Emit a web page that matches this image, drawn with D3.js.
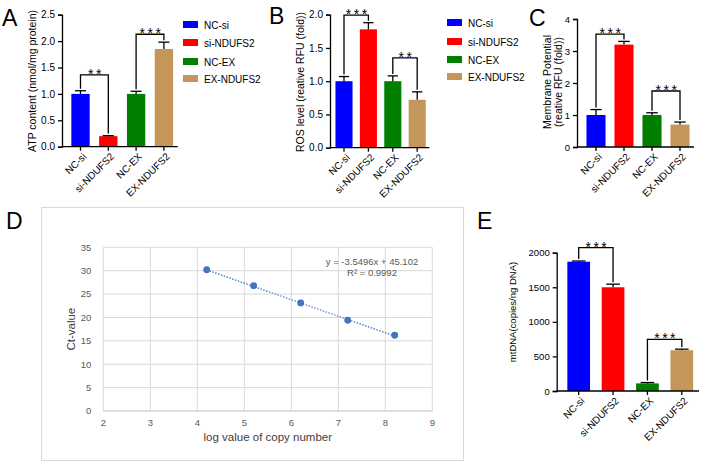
<!DOCTYPE html>
<html>
<head>
<meta charset="utf-8">
<script src="https://cdn.jsdelivr.net/npm/d3@7"></script>
<style>
  body { margin: 0; background: #fff; }
  svg { display: block; font-family: "Liberation Sans", Arial, sans-serif; }
</style>
</head>
<body>
<div id="chart"></div>
<script>
// ---- data ----
const groups = ["NC-si", "si-NDUFS2", "NC-EX", "EX-NDUFS2"];
const groupColors = ["#0000FF", "#FF0000", "#007F00", "#C4965A"];

const atpMean = [1.0, 0.2, 1.0, 1.85];
const atpErr = [0.06, 0.01, 0.05, 0.13];
const atpTicks = [0, 0.5, 1.0, 1.5, 2.0, 2.5];

const rosMean = [1.0, 1.78, 1.0, 0.72];
const rosErr = [0.07, 0.10, 0.08, 0.12];
const rosTicks = [0, 0.5, 1.0, 1.5, 2.0];

const mmpMean = [1.0, 3.2, 1.0, 0.7];
const mmpErr = [0.17, 0.10, 0.07, 0.08];
const mmpTicks = [0, 1, 2, 3, 4];

const mtdnaMean = [1870, 1500, 110, 590];
const mtdnaErr = [10, 45, 12, 15];
const mtdnaTicks = [0, 500, 1000, 1500, 2000];

// standard curve
const logCopy = [4.2, 5.2, 6.2, 7.2, 8.2];
const ctValue = [30.2, 26.8, 23.1, 19.4, 16.2];
const fitSlope = -3.5496, fitIntercept = 45.102;
const ctXTicks = [2, 3, 4, 5, 6, 7, 8, 9];
const ctYTicks = [0, 5, 10, 15, 20, 25, 30, 35];

const W = 708, H = 464;
const svg = d3.select("#chart").append("svg").attr("width", W).attr("height", H);

function panelLetter(x, y, t) {
    svg.append("text").attr("x", x).attr("y", y).attr("font-size", 23).attr("fill", "#000").text(t);
}

function barPanel(o) {
    const g = svg.append("g");
    const y = d3.scaleLinear().domain([0, o.ticks[o.ticks.length - 1]]).range([o.bottom, o.top]);
    const x = d3.scaleBand().domain(groups).range(o.xRange)
        .paddingInner(o.pad).paddingOuter(o.pad / 2);
    const bw = x.bandwidth();

    // bars
    g.selectAll(".bar").data(groups).join("rect")
        .attr("x", d => x(d)).attr("width", bw)
        .attr("y", (d, i) => y(o.mean[i]))
        .attr("height", (d, i) => o.bottom - y(o.mean[i]))
        .attr("fill", (d, i) => groupColors[i]);

    // error bars (upper only)
    const eb = g.selectAll(".eb").data(groups).join("g");
    eb.append("line")
        .attr("x1", d => x(d) + bw / 2).attr("x2", d => x(d) + bw / 2)
        .attr("y1", (d, i) => y(o.mean[i])).attr("y2", (d, i) => y(o.mean[i] + o.err[i]));
    eb.append("line")
        .attr("x1", d => x(d) + bw * 0.2).attr("x2", d => x(d) + bw * 0.8)
        .attr("y1", (d, i) => y(o.mean[i] + o.err[i])).attr("y2", (d, i) => y(o.mean[i] + o.err[i]));
    eb.selectAll("line").attr("stroke", "#000").attr("stroke-width", 1.3);

    // y axis
    const yAx = g.append("g").attr("transform", `translate(${o.yAxisX},0)`)
        .call(d3.axisLeft(y).tickValues(o.ticks).tickSizeOuter(0).tickSize(4)
            .tickFormat(o.fmt));
    yAx.selectAll("path,line").attr("stroke", "#000").attr("stroke-width", 1.3);
    yAx.selectAll("text").attr("font-size", o.tickFont).attr("fill", "#000")
        .attr("font-family", "Liberation Sans, Arial, sans-serif");

    // x axis
    g.append("line").attr("x1", o.yAxisX).attr("x2", o.xRange[1])
        .attr("y1", o.bottom).attr("y2", o.bottom)
        .attr("stroke", "#000").attr("stroke-width", 1.3);
    g.selectAll(".xt").data(groups).join("line")
        .attr("x1", d => x(d) + bw / 2).attr("x2", d => x(d) + bw / 2)
        .attr("y1", o.bottom).attr("y2", o.bottom + 4)
        .attr("stroke", "#000").attr("stroke-width", 1.3);
    g.selectAll(".xl").data(groups).join("text")
        .attr("transform", d => `translate(${x(d) + bw / 2 + 4},${o.bottom + 8}) rotate(-45)`)
        .attr("text-anchor", "end").attr("dy", "0.35em")
        .attr("font-size", 10).attr("fill", "#000").text(d => d);

    // y title
    const tt = g.append("text")
        .attr("transform", `translate(${o.titleX},${o.titleY}) rotate(-90)`)
        .attr("text-anchor", "middle").attr("font-size", o.titleFont).attr("fill", "#000");
    o.title.forEach((line, i) => {
        tt.append("tspan").attr("x", 0).attr("dy", i === 0 ? 0 : "1.05em").text(line);
    });

    // significance brackets
    o.sig.forEach(s => {
        const xa = x(groups[s.a]) + bw / 2, xb = x(groups[s.b]) + bw / 2;
        const yt = y(s.top);
        const ya = y(o.mean[s.a] + o.err[s.a]) - 2, yb = y(o.mean[s.b] + o.err[s.b]) - 2;
        g.append("path")
            .attr("d", `M${xa},${ya}V${yt}H${xb}V${yb}`)
            .attr("fill", "none").attr("stroke", "#000").attr("stroke-width", 1.3);
        g.append("text").attr("x", (xa + xb) / 2 + 1.5).attr("y", yt + 4)
            .attr("text-anchor", "middle").attr("font-size", 14).attr("letter-spacing", 2.5)
            .attr("fill", "#000").text(s.label);
    });
}

function legend(x0, ys) {
    const lg = svg.append("g");
    groups.forEach((d, i) => {
        lg.append("rect").attr("x", x0).attr("y", ys[i] - 4).attr("width", 15).attr("height", 7)
            .attr("fill", groupColors[i]);
        lg.append("text").attr("x", x0 + 21).attr("y", ys[i]).attr("dy", "0.35em")
            .attr("font-size", 10).attr("fill", "#000").text(d);
    });
}

// ---- A ----
panelLetter(2, 26, "A");
barPanel({
    mean: atpMean, err: atpErr, ticks: atpTicks, fmt: d3.format(".1f"),
    top: 14.7, bottom: 146.7, xRange: [66.6, 177.8], pad: 0.34, yAxisX: 62,
    tickFont: 10, title: ["ATP content (nmol/mg protein)"], titleX: 36, titleY: 81, titleFont: 10.5,
    sig: [{ a: 0, b: 1, top: 1.36, label: "**" }, { a: 2, b: 3, top: 2.13, label: "***" }]
});
legend(183, [25, 43, 62, 79]);

// ---- B ----
panelLetter(269, 24, "B");
barPanel({
    mean: rosMean, err: rosErr, ticks: rosTicks, fmt: d3.format(".1f"),
    top: 14.7, bottom: 147.7, xRange: [331.8, 429.4], pad: 0.30, yAxisX: 330,
    tickFont: 10, title: ["ROS level (reative RFU (fold))"], titleX: 304, titleY: 82, titleFont: 10.5,
    sig: [{ a: 0, b: 1, top: 1.995, label: "***" }, { a: 2, b: 3, top: 1.35, label: "**" }]
});
legend(447, [23, 42, 60, 77]);

// ---- C ----
panelLetter(529, 26, "C");
barPanel({
    mean: mmpMean, err: mmpErr, ticks: mmpTicks, fmt: d3.format("d"),
    top: 19, bottom: 147, xRange: [582, 694], pad: 0.32, yAxisX: 577,
    tickFont: 9.5, title: ["Membrane Potential", "(reative RFU (fold))"], titleX: 551, titleY: 82, titleFont: 10.5,
    sig: [{ a: 0, b: 1, top: 3.53, label: "***" }, { a: 2, b: 3, top: 1.75, label: "***" }]
});

// ---- D ----
panelLetter(6, 229, "D");
svg.append("rect").attr("x", 41.5).attr("y", 207.5).attr("width", 422).attr("height", 253)
    .attr("fill", "#fff").attr("stroke", "#d9d9d9").attr("stroke-width", 1);
const dx = d3.scaleLinear().domain([2, 9]).range([103.3, 432.3]);
const dy = d3.scaleLinear().domain([0, 35]).range([411, 247.3]);
const dg = svg.append("g");
dg.selectAll(".vg").data(ctXTicks).join("line")
    .attr("x1", d => dx(d)).attr("x2", d => dx(d)).attr("y1", dy(0)).attr("y2", dy(35))
    .attr("stroke", "#d9d9d9").attr("stroke-width", 1);
dg.selectAll(".hg").data(ctYTicks).join("line")
    .attr("x1", dx(2)).attr("x2", dx(9)).attr("y1", d => dy(d)).attr("y2", d => dy(d))
    .attr("stroke", d => d === 0 ? "#bfbfbf" : "#d9d9d9").attr("stroke-width", 1);
dg.selectAll(".xtl").data(ctXTicks).join("text")
    .attr("x", d => dx(d)).attr("y", dy(0) + 15).attr("text-anchor", "middle")
    .attr("font-size", 9.5).attr("fill", "#595959").text(d => d);
dg.selectAll(".ytl").data(ctYTicks).join("text")
    .attr("x", dx(2) - 12).attr("y", d => dy(d)).attr("dy", "0.35em").attr("text-anchor", "end")
    .attr("font-size", 9.5).attr("fill", "#595959").text(d => d);
dg.append("line")
    .attr("x1", dx(logCopy[0])).attr("y1", dy(fitSlope * logCopy[0] + fitIntercept))
    .attr("x2", dx(logCopy[4])).attr("y2", dy(fitSlope * logCopy[4] + fitIntercept))
    .attr("stroke", "#4472C4").attr("stroke-width", 1.3).attr("stroke-dasharray", "1.5,1.5");
dg.selectAll(".pt").data(logCopy).join("circle")
    .attr("cx", d => dx(d)).attr("cy", (d, i) => dy(ctValue[i])).attr("r", 3.4)
    .attr("fill", "#4472C4");
dg.append("text").attr("x", 372).attr("y", 265).attr("text-anchor", "middle")
    .attr("font-size", 9.5).attr("fill", "#595959").text("y = -3.5496x + 45.102");
dg.append("text").attr("x", 372).attr("y", 276).attr("text-anchor", "middle")
    .attr("font-size", 9.5).attr("fill", "#595959").text("R² = 0.9992");
dg.append("text").attr("transform", `translate(75,${(dy(0) + dy(35)) / 2}) rotate(-90)`)
    .attr("text-anchor", "middle").attr("font-size", 11.5).attr("fill", "#404040").text("Ct-value");
dg.append("text").attr("x", (dx(2) + dx(9)) / 2).attr("y", 441).attr("text-anchor", "middle")
    .attr("font-size", 11.5).attr("fill", "#404040").text("log value of copy number");

// ---- E ----
panelLetter(477, 229, "E");
barPanel({
    mean: mtdnaMean, err: mtdnaErr, ticks: mtdnaTicks, fmt: d3.format("d"),
    top: 252.7, bottom: 391, xRange: [561.5, 699], pad: 0.34, yAxisX: 556.7,
    tickFont: 9.5, title: ["mtDNA(copies/ng DNA)"], titleX: 516, titleY: 312, titleFont: 9.5,
    sig: [{ a: 0, b: 1, top: 2072, label: "***" }, { a: 2, b: 3, top: 748, label: "***" }]
});
</script>
</body>
</html>
